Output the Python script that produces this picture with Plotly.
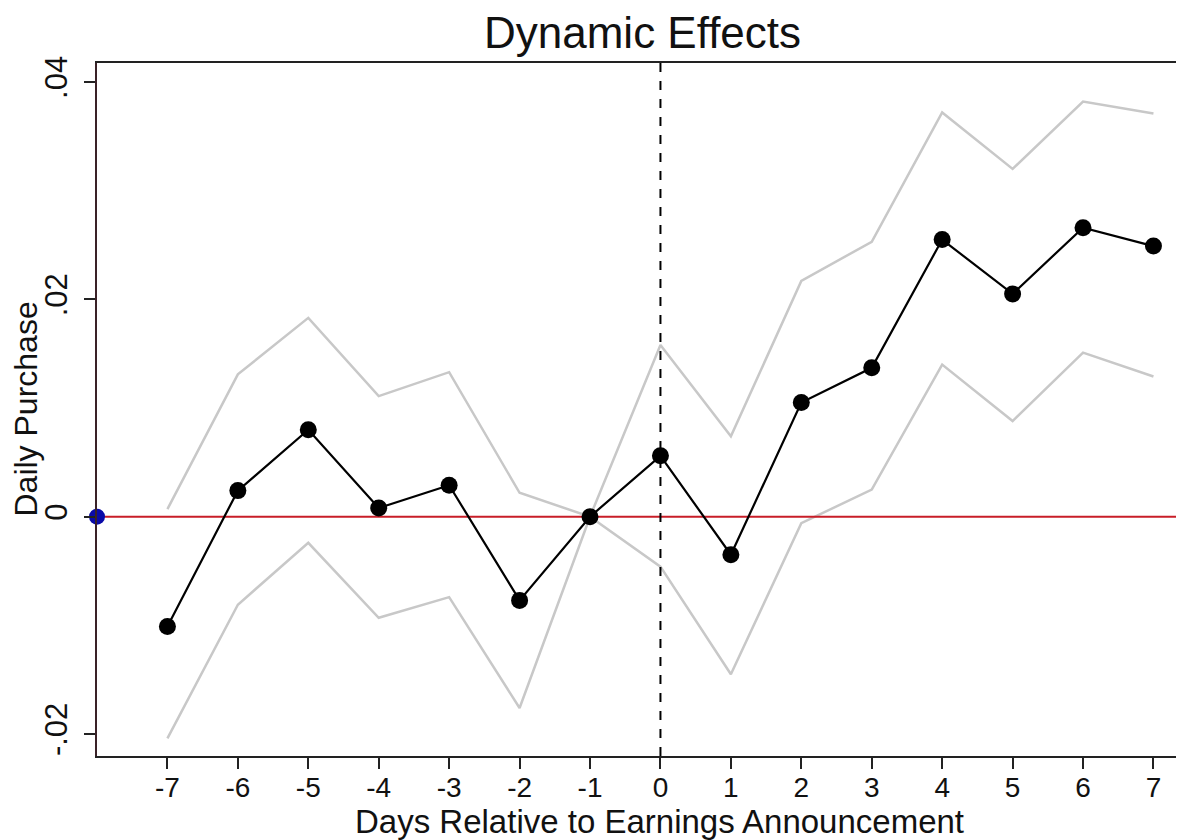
import plotly.graph_objects as go

days = [-7, -6, -5, -4, -3, -2, -1, 0, 1, 2, 3, 4, 5, 6, 7]
coef = [-0.0101, 0.0024, 0.0080, 0.0008, 0.0029, -0.0077, 0.0, 0.0056, -0.0035, 0.0105, 0.0137, 0.0255, 0.0205, 0.0266, 0.0249]
upper = [0.0007, 0.0131, 0.0183, 0.0111, 0.0133, 0.0022, 0.0, 0.0158, 0.0074, 0.0217, 0.0253, 0.0372, 0.0320, 0.0382, 0.0371]
lower = [-0.0204, -0.0081, -0.0024, -0.0093, -0.0074, -0.0176, 0.0, -0.0046, -0.0145, -0.0006, 0.0025, 0.0140, 0.0088, 0.0151, 0.0129]

ytick_vals = [-0.02, 0, 0.02, 0.04]
ytick_text = ["-.02", "0", ".02", ".04"]

FONT = "Liberation Sans, Arial, sans-serif"
# page body has an 8px margin on top/left
W, H = 1168, 832
L, R, T, B = 89, 0, 55, 84
PW, PH = W - L - R, H - T - B
X0, X1 = -8, 7.32

fig = go.Figure()
fig.add_trace(go.Scatter(x=days, y=upper, mode="lines", line=dict(color="#c8c8c8", width=2.5), showlegend=False))
fig.add_trace(go.Scatter(x=days, y=lower, mode="lines", line=dict(color="#c8c8c8", width=2.5), showlegend=False))
fig.add_trace(go.Scatter(x=[X0, X1], y=[0, 0], mode="lines", line=dict(color="#c81e28", width=2), showlegend=False))
fig.add_trace(go.Scatter(x=days, y=coef, mode="lines+markers", line=dict(color="black", width=2.2),
                         marker=dict(color="black", size=17), showlegend=False))
fig.add_trace(go.Scatter(x=[X0], y=[0], mode="markers", marker=dict(color="#0a0aa8", size=16),
                         showlegend=False, cliponaxis=False))

fig.add_shape(type="line", xref="x", yref="paper", x0=0, x1=0, y0=0, y1=1,
              line=dict(color="black", width=2, dash="dash"))

fig.update_layout(
    width=W, height=H,
    margin=dict(l=L, r=R, t=T, b=B, autoexpand=False),
    paper_bgcolor="white", plot_bgcolor="white",
    font=dict(family=FONT, color="#111"),
)
fig.update_xaxes(range=[X0, X1], tickvals=days, ticktext=[str(d) for d in days], automargin=False,
                 ticklabelstandoff=-6,
                 showgrid=False, zeroline=False, showline=True, linecolor="#222", linewidth=2,
                 mirror=True, ticks="outside", ticklen=11, tickwidth=1.5, tickcolor="#222",
                 tickfont=dict(size=28, family=FONT, color="#111"))
fig.update_yaxes(range=[-0.02202, 0.04175], tickvals=ytick_vals, ticktext=ytick_text, tickangle=-90,
                 automargin=False, ticklabelstandoff=5,
                 showgrid=False, zeroline=False, showline=True, linecolor="#3a2228", linewidth=2,
                 ticks="outside", ticklen=11, tickwidth=1.5, tickcolor="#222",
                 tickfont=dict(size=31, family=FONT, color="#111"))

fig.add_annotation(text="Dynamic Effects", xref="paper", yref="paper",
                   x=(634 - L) / PW, y=1 + (T - 24) / PH, xanchor="center", yanchor="middle", showarrow=False,
                   font=dict(size=44, family=FONT, color="#111"))
fig.add_annotation(text="Days Relative to Earnings Announcement", xref="paper", yref="paper",
                   x=(651 - L) / PW, y=-(813 - (H - B)) / PH, xanchor="center", yanchor="middle", showarrow=False,
                   font=dict(size=33, family=FONT, color="#111"))
fig.add_annotation(text="Daily Purchase", xref="paper", yref="paper",
                   x=-(L - 17) / PW, y=0.5, textangle=-90, xanchor="center", yanchor="middle", showarrow=False,
                   font=dict(size=32, family=FONT, color="#111"))

fig.write_html("out.html")
